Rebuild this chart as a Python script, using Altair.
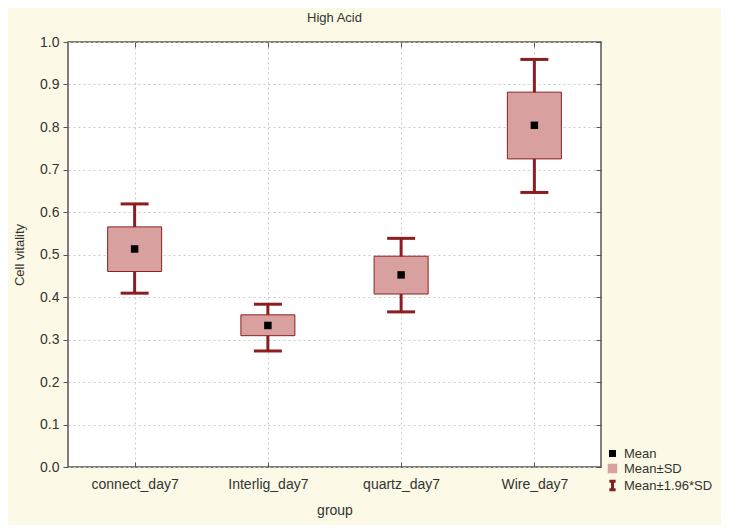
import altair as alt
import pandas as pd

groups = ["connect_day7", "Interlig_day7", "quartz_day7", "Wire_day7"]
means = [0.513, 0.333, 0.452, 0.804]
sd_lo = [0.460, 0.309, 0.407, 0.725]
sd_hi = [0.565, 0.358, 0.496, 0.882]
ci_lo = [0.409, 0.273, 0.365, 0.646]
ci_hi = [0.619, 0.383, 0.538, 0.959]

legend_kinds = ["Mean", "Mean±SD", "Mean±1.96*SD"]

df = pd.DataFrame({
    "group": groups, "mean": means, "sd_lo": sd_lo, "sd_hi": sd_hi,
    "ci_lo": ci_lo, "ci_hi": ci_hi,
})
leg_df = pd.DataFrame({"kind": legend_kinds, "group": groups[:3]})

RED = "#8b1f1f"
PINK = "#d9a0a0"
FONT = "Liberation Sans"
W, H = 533, 425

xscale = alt.Scale(type="point", domain=groups, padding=0.5)
yscale = alt.Scale(domain=[0, 1])
yvals = [round(i * 0.1, 1) for i in range(11)]

x_main = alt.X("group:N", scale=xscale, title="group",
               axis=alt.Axis(orient="bottom", ticks=False, domain=False, grid=True,
                             gridColor="#cccccc", gridDash=[2, 3], labelAngle=0,
                             labelFont=FONT, labelFontSize=14, labelColor="#333333",
                             labelPadding=10, titleFont=FONT, titleFontSize=14,
                             titleFontWeight="normal", titleColor="#333333",
                             titlePadding=12))
y_main = alt.Y("ci_lo:Q", scale=yscale, title="Cell vitality",
               axis=alt.Axis(orient="left", values=yvals, format=".1f", grid=True,
                             gridColor="#cccccc", gridDash=[2, 3], domain=False,
                             tickColor="#555555", tickSize=5, labelFont=FONT,
                             labelFontSize=14, labelColor="#333333", labelPadding=4,
                             titleFont=FONT, titleFontSize=13, titleFontWeight="normal",
                             titleColor="#333333", titlePadding=13))

def xnone(field="group:N"):
    return alt.X(field, scale=xscale, axis=None)

def ynone(field):
    return alt.Y(field, scale=yscale, axis=None)

base = alt.Chart(df)

whisk = base.mark_rule(color=RED, strokeWidth=3).encode(
    x=x_main, y=y_main, y2="ci_hi:Q")

box = base.mark_bar(size=54, fill=PINK, stroke=RED, strokeWidth=1).encode(
    x=alt.X("group:N", scale=xscale,
            axis=alt.Axis(orient="top", offset=-H, labels=False, domain=False,
                          grid=False, ticks=True, tickSize=5, tickColor="#555555",
                          title=None)),
    y=ynone("sd_lo:Q"), y2="sd_hi:Q")

cap_lo = base.mark_tick(size=28, thickness=3, color=RED, opacity=1).encode(
    x=alt.X("group:N", scale=xscale,
            axis=alt.Axis(orient="bottom", offset=-H, labels=False, domain=False,
                          grid=False, ticks=True, tickSize=5, tickColor="#555555",
                          title=None)),
    y=ynone("ci_lo:Q"))

cap_hi = base.mark_tick(size=28, thickness=3, color=RED, opacity=1).encode(
    x=xnone(), y=ynone("ci_hi:Q"))

mean_pt = base.mark_square(size=56, color="black", opacity=1).encode(
    x=xnone(),
    y=alt.Y("mean:Q", scale=yscale,
            axis=alt.Axis(orient="left", offset=-W, values=yvals, labels=False,
                          domain=False, grid=False, ticks=True, tickSize=5,
                          tickColor="#555555", title=None)))

ibeam = "M-0.75,-1H0.75M0,-1V1M-0.75,1H0.75"
leg = alt.Legend(title=None, orient="none", legendX=538, legendY=405)
legend = alt.Chart(leg_df).mark_point(clip=True, opacity=1, strokeWidth=3).encode(
    x=xnone(), y=alt.value(-200),
    fill=alt.Fill("kind:N", scale=alt.Scale(domain=legend_kinds,
                                            range=["black", PINK, "transparent"]),
                  legend=leg),
    stroke=alt.Stroke("kind:N", scale=alt.Scale(domain=legend_kinds,
                                                range=["black", PINK, RED]),
                      legend=leg),
    shape=alt.Shape("kind:N", scale=alt.Scale(domain=legend_kinds,
                                              range=["square", "square", ibeam]),
                    legend=leg),
    size=alt.Size("kind:N", scale=alt.Scale(domain=legend_kinds,
                                            range=[16, 70, 150]),
                  legend=leg),
)

chart = alt.layer(whisk, box, cap_lo, cap_hi, mean_pt, legend).resolve_axis(
    x="independent", y="independent"
).properties(
    width=W, height=H,
    title=alt.TitleParams("High Acid", font=FONT, fontSize=13, fontWeight="normal",
                          color="#333333", offset=10, anchor="middle"),
    padding={"left": 60, "top": 34, "right": 120, "bottom": 58},
    autosize=alt.AutoSizeParams(type="none"),
).configure(background="#fcfae6").configure_view(
    fill="white", stroke="#555555", strokeWidth=1.5
).configure_legend(
    labelFont=FONT, labelFontSize=13, labelColor="#333333",
    rowPadding=-3, labelOffset=5, symbolStrokeWidth=3
)

chart.save("out.html", embed_options={"renderer": "svg", "actions": False})
